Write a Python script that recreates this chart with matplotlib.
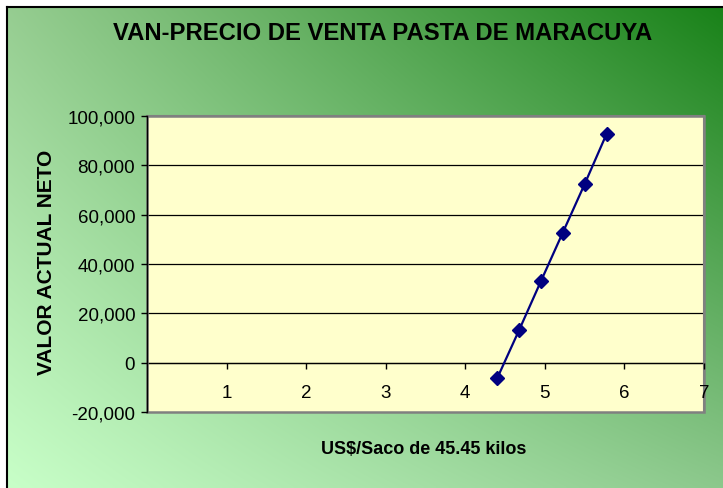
import numpy as np
import matplotlib
matplotlib.use("Agg")
import matplotlib.pyplot as plt
from matplotlib.ticker import FuncFormatter, FixedLocator
from matplotlib.patches import Rectangle

# Data
precio = [4.40, 4.675, 4.95, 5.225, 5.50, 5.775]
van = [-6400, 13100, 33000, 52700, 72400, 92700]
x_ticks = [1, 2, 3, 4, 5, 6, 7]
y_ticks = [-20000, 0, 20000, 40000, 60000, 80000, 100000]

title = "VAN-PRECIO DE VENTA PASTA DE MARACUYA"
xlabel = "US$/Saco de 45.45 kilos"
ylabel = "VALOR ACTUAL NETO"

plt.rcParams['font.family'] = ['Liberation Sans', 'DejaVu Sans']

W, H = 723, 489
fig = plt.figure(figsize=(W / 100, H / 100), dpi=100)
fig.patch.set_facecolor('white')

# Background gradient (chart area)
bx0, by0 = 7, 8
bg = fig.add_axes([bx0 / W, 0, 1 - bx0 / W, 1 - by0 / H], zorder=0)
tl = np.array([150, 205, 145]) / 255
tr = np.array([25, 130, 25]) / 255
bl = np.array([200, 255, 200]) / 255
br = np.array([140, 200, 140]) / 255
u = np.linspace(0, 1, 300)[None, :, None]
v = np.linspace(0, 1, 200)[:, None, None]
img = (1 - v) * ((1 - u) * tl + u * tr) + v * ((1 - u) * bl + u * br)
bg.imshow(img, aspect='auto', extent=[0, 1, 0, 1], origin='upper', interpolation='bilinear')
bg.set_xlim(0, 1)
bg.set_ylim(0, 1)
bg.set_xticks([])
bg.set_yticks([])
for s in ['right', 'bottom']:
    bg.spines[s].set_visible(False)
for s in ['left', 'top']:
    bg.spines[s].set_color('black')
    bg.spines[s].set_linewidth(1.5)

# Plot area
left, right, top, bottom = 147, 704, 117, 413
ax = fig.add_axes([left / W, 1 - bottom / H, (right - left) / W, (bottom - top) / H], zorder=2)
ax.set_facecolor('#FFFFCC')
ax.set_xlim(0, 7)
ax.set_ylim(-20000, 100000)

for yv in y_ticks[1:-1]:
    ax.axhline(yv, color='black', lw=0.9, zorder=1)

ax.plot(precio, van, color='#000080', lw=1.6, marker='D', markersize=7,
        markerfacecolor='#000080', markeredgecolor='#000080', zorder=3)

ax.yaxis.set_major_locator(FixedLocator(y_ticks))
ax.yaxis.set_major_formatter(FuncFormatter(lambda v, p: f"{int(v):,}"))
ax.xaxis.set_major_locator(FixedLocator(x_ticks))
ax.xaxis.set_major_formatter(FuncFormatter(lambda v, p: f"{int(v)}"))

ax.spines['bottom'].set_position(('data', 0))
ax.spines['bottom'].set_color('black')
ax.spines['bottom'].set_linewidth(0.9)
ax.spines['left'].set_color('black')
ax.spines['left'].set_linewidth(1.0)
for s in ['top', 'right']:
    ax.spines[s].set_color('#808080')
    ax.spines[s].set_linewidth(1.5)

ax.add_patch(Rectangle((0, 0), 1, 1, transform=ax.transAxes, fill=False,
                       edgecolor='#808080', lw=1.8, zorder=4, clip_on=False))
ax.spines['left'].set_zorder(5)
ax.xaxis.set_zorder(6)
ax.yaxis.set_zorder(6)

ax.tick_params(axis='y', direction='out', length=4, width=1, pad=4.5,
               labelsize=13.5, colors='black')
ax.tick_params(axis='x', direction='out', length=4, width=1, pad=11.5,
               labelsize=13.5, colors='black')
for lbl in ax.get_xticklabels():
    lbl.set_clip_on(False)

fig.text(383 / W, 1 - 33 / H, title, ha='center', va='center',
         fontsize=17.2, fontweight='bold', color='black')
fig.text(424 / W, 1 - 450 / H, xlabel, ha='center', va='center',
         fontsize=13, fontweight='bold', color='black')
fig.text(47 / W, 1 - 262 / H, ylabel, ha='center', va='center', rotation=90,
         fontsize=15, fontweight='bold', color='black')

fig.savefig('out.png', dpi=100)
